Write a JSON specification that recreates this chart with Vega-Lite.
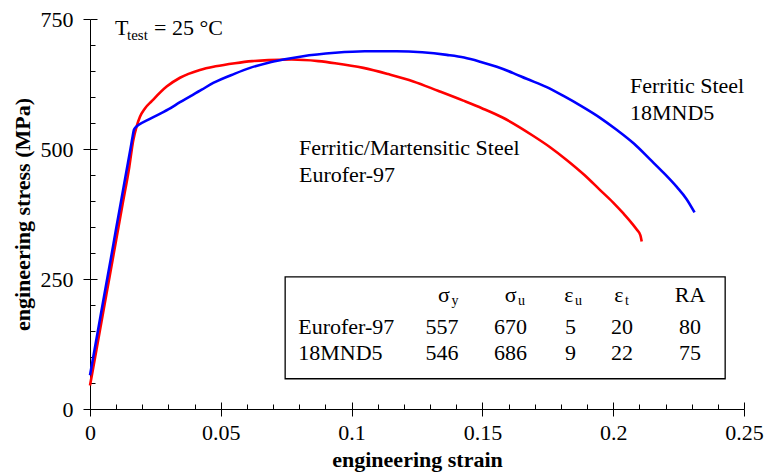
{
  "$schema": "https://vega.github.io/schema/vega-lite/v6.json",
  "width": 654,
  "height": 390,
  "autosize": {"type": "none"},
  "padding": {"left": 90, "top": 19, "right": 20, "bottom": 65},
  "background": "white",
  "config": {
    "view": {"stroke": null},
    "font": "Liberation Serif",
    "axis": {"grid": false, "domainColor": "black", "tickColor": "black", "labelColor": "black", "titleColor": "black", "labelFont": "Liberation Serif", "titleFont": "Liberation Serif", "domainWidth": 1, "tickWidth": 1, "labelOverlap": false, "labelBound": false, "labelFlush": false}
  },
  "resolve": {"axis": {"x": "independent", "y": "independent"}},
  "layer": [
    {
      "data": {"values": [{"x1": 0.0746, "x2": 0.2428, "y1": 58.2, "y2": 254}]},
      "mark": {"type": "rect", "fill": "white", "stroke": "black", "strokeWidth": 1.3},
      "encoding": {
        "x": {"field": "x1", "type": "quantitative", "scale": {"domain": [0, 0.25], "nice": false, "zero": false},
              "axis": {"values": [0.01,0.02,0.03,0.04,0.06,0.07,0.08,0.09,0.11,0.12,0.13,0.14,0.16,0.17,0.18,0.19,0.21,0.22,0.23,0.24], "tickSize": -5, "labels": false, "domain": false, "title": null, "orient": "bottom"}},
        "x2": {"field": "x2"},
        "y": {"field": "y1", "type": "quantitative", "scale": {"domain": [0, 750], "nice": false, "zero": false},
              "axis": {"values": [50,100,150,200,300,350,400,450,550,600,650,700], "tickSize": -5, "labels": false, "domain": false, "title": null, "orient": "left"}},
        "y2": {"field": "y2"}
      }
    },
    {
      "data": {"values": [
        {"strain": 0, "stress": 45}, {"strain": 0.0025, "stress": 115}, {"strain": 0.005, "stress": 185}, {"strain": 0.0075, "stress": 255}, {"strain": 0.010, "stress": 325},
        {"strain": 0.0125, "stress": 395}, {"strain": 0.015, "stress": 465},
        {"strain": 0.0165, "stress": 516}, {"strain": 0.0178, "stress": 543}, {"strain": 0.0191, "stress": 562}, {"strain": 0.0210, "stress": 578},
        {"strain": 0.0236, "stress": 592}, {"strain": 0.0293, "stress": 620}, {"strain": 0.0344, "stress": 637}, {"strain": 0.042, "stress": 652},
        {"strain": 0.048, "stress": 659}, {"strain": 0.0554, "stress": 665}, {"strain": 0.062, "stress": 669}, {"strain": 0.0682, "stress": 671},
        {"strain": 0.0771, "stress": 672}, {"strain": 0.0873, "stress": 669}, {"strain": 0.0937, "stress": 665}, {"strain": 0.1045, "stress": 656},
        {"strain": 0.114, "stress": 644}, {"strain": 0.1236, "stress": 630}, {"strain": 0.133, "stress": 612}, {"strain": 0.1427, "stress": 593},
        {"strain": 0.150, "stress": 578}, {"strain": 0.1575, "stress": 561}, {"strain": 0.1695, "stress": 525}, {"strain": 0.176, "stress": 503},
        {"strain": 0.1822, "stress": 479}, {"strain": 0.189, "stress": 450}, {"strain": 0.195, "stress": 421}, {"strain": 0.200, "stress": 397},
        {"strain": 0.2039, "stress": 376}, {"strain": 0.207, "stress": 358}, {"strain": 0.209, "stress": 345}, {"strain": 0.2104, "stress": 334},
        {"strain": 0.2109, "stress": 322}
      ]},
      "mark": {"type": "line", "color": "#ff0000", "strokeWidth": 2.6, "interpolate": "monotone"},
      "encoding": {
        "x": {"field": "strain", "type": "quantitative", "scale": {"domain": [0, 0.25], "nice": false, "zero": false},
              "axis": {"values": [0, 0.05, 0.1, 0.15, 0.2, 0.25], "format": ".2~f", "title": "engineering strain", "tickSize": 7, "labelFontSize": 22, "titleFontSize": 22, "titleFontWeight": "bold", "labelPadding": 6, "titlePadding": 6, "orient": "bottom"}},
        "y": {"field": "stress", "type": "quantitative", "scale": {"domain": [0, 750], "nice": false, "zero": false},
              "axis": {"values": [0, 250, 500, 750], "format": "d", "title": "engineering stress (MPa)", "tickSize": 7, "labelFontSize": 22, "titleFontSize": 22, "titleFontWeight": "bold", "labelPadding": 10, "titlePadding": 6, "orient": "left"}}
      }
    },
    {
      "data": {"values": [
        {"strain": 0, "stress": 65}, {"strain": 0.002, "stress": 121}, {"strain": 0.004, "stress": 178}, {"strain": 0.006, "stress": 234}, {"strain": 0.008, "stress": 290},
        {"strain": 0.010, "stress": 347}, {"strain": 0.012, "stress": 403}, {"strain": 0.014, "stress": 459}, {"strain": 0.0155, "stress": 501},
        {"strain": 0.0163, "stress": 524}, {"strain": 0.0168, "stress": 537}, {"strain": 0.0175, "stress": 542}, {"strain": 0.0185, "stress": 546}, {"strain": 0.0229, "stress": 558},
        {"strain": 0.0299, "stress": 576}, {"strain": 0.0344, "stress": 590}, {"strain": 0.0427, "stress": 614}, {"strain": 0.0471, "stress": 627},
        {"strain": 0.0554, "stress": 645}, {"strain": 0.0612, "stress": 656}, {"strain": 0.0682, "stress": 666}, {"strain": 0.0739, "stress": 672},
        {"strain": 0.0809, "stress": 678}, {"strain": 0.0937, "stress": 685}, {"strain": 0.105, "stress": 688}, {"strain": 0.1172, "stress": 688},
        {"strain": 0.127, "stress": 686}, {"strain": 0.1364, "stress": 681}, {"strain": 0.143, "stress": 676}, {"strain": 0.1491, "stress": 668},
        {"strain": 0.1555, "stress": 658}, {"strain": 0.1618, "stress": 646}, {"strain": 0.1669, "stress": 635}, {"strain": 0.1746, "stress": 619},
        {"strain": 0.181, "stress": 602}, {"strain": 0.188, "stress": 582}, {"strain": 0.195, "stress": 560}, {"strain": 0.2013, "stress": 537},
        {"strain": 0.208, "stress": 510}, {"strain": 0.2141, "stress": 480}, {"strain": 0.2195, "stress": 453}, {"strain": 0.2243, "stress": 427},
        {"strain": 0.228, "stress": 404}, {"strain": 0.2311, "stress": 378}
      ]},
      "mark": {"type": "line", "color": "#0000ff", "strokeWidth": 2.6, "interpolate": "monotone"},
      "encoding": {
        "x": {"field": "strain", "type": "quantitative", "scale": {"domain": [0, 0.25], "nice": false, "zero": false},
              "axis": {"values": [0, 0.05, 0.1, 0.15, 0.2, 0.25], "tickSize": -7, "labels": false, "domain": false, "title": null, "orient": "bottom"}},
        "y": {"field": "stress", "type": "quantitative", "scale": {"domain": [0, 750], "nice": false, "zero": false},
              "axis": {"values": [0, 250, 500, 750], "tickSize": -7, "labels": false, "domain": false, "title": null, "orient": "left"}}
      }
    },
    {
      "data": {"values": [
        {"x": 0.00956, "y": 720, "label": "T"},
        {"x": 0.02446, "y": 720, "label": "= 25 °C"},
        {"x": 0.2064, "y": 607.7, "label": "Ferritic Steel"},
        {"x": 0.2064, "y": 555, "label": "18MND5"},
        {"x": 0.0799, "y": 488.7, "label": "Ferritic/Martensitic Steel"},
        {"x": 0.0799, "y": 435.7, "label": "Eurofer-97"},
        {"x": 0.0796, "y": 145, "label": "Eurofer-97"},
        {"x": 0.0796, "y": 93.5, "label": "18MND5"}
      ]},
      "mark": {"type": "text", "align": "left", "baseline": "alphabetic", "fontSize": 22, "font": "Liberation Serif", "color": "black"},
      "encoding": {
        "x": {"field": "x", "type": "quantitative", "axis": null},
        "y": {"field": "y", "type": "quantitative", "axis": null},
        "text": {"field": "label"}
      }
    },
    {
      "data": {"values": [
        {"x": 0.01414, "y": 710.4, "label": "test"}
      ]},
      "mark": {"type": "text", "align": "left", "baseline": "alphabetic", "fontSize": 15, "font": "Liberation Serif", "color": "black"},
      "encoding": {
        "x": {"field": "x", "type": "quantitative", "axis": null},
        "y": {"field": "y", "type": "quantitative", "axis": null},
        "text": {"field": "label"}
      }
    },
    {
      "data": {"values": [
        {"x": 0.1346, "y": 145, "label": "557"}, {"x": 0.1607, "y": 145, "label": "670"}, {"x": 0.1837, "y": 145, "label": "5"}, {"x": 0.2034, "y": 145, "label": "20"}, {"x": 0.2294, "y": 145, "label": "80"},
        {"x": 0.1346, "y": 93.5, "label": "546"}, {"x": 0.1607, "y": 93.5, "label": "686"}, {"x": 0.1837, "y": 93.5, "label": "9"}, {"x": 0.2034, "y": 93.5, "label": "22"}, {"x": 0.2294, "y": 93.5, "label": "75"},
        {"x": 0.2294, "y": 205.9, "label": "RA"}
      ]},
      "mark": {"type": "text", "align": "center", "baseline": "alphabetic", "fontSize": 22, "font": "Liberation Serif", "color": "black"},
      "encoding": {
        "x": {"field": "x", "type": "quantitative", "axis": null},
        "y": {"field": "y", "type": "quantitative", "axis": null},
        "text": {"field": "label"}
      }
    },
    {
      "data": {"values": [
        {"x": 0.1376, "y": 205.9, "label": "σ"}, {"x": 0.1631, "y": 205.9, "label": "σ"}, {"x": 0.1848, "y": 205.9, "label": "ε"}, {"x": 0.2039, "y": 205.9, "label": "ε"}
      ]},
      "mark": {"type": "text", "align": "right", "baseline": "alphabetic", "fontSize": 22, "font": "Liberation Serif", "color": "black"},
      "encoding": {
        "x": {"field": "x", "type": "quantitative", "axis": null},
        "y": {"field": "y", "type": "quantitative", "axis": null},
        "text": {"field": "label"}
      }
    },
    {
      "data": {"values": [
        {"x": 0.1382, "y": 199.5, "label": "y"}, {"x": 0.1636, "y": 199.5, "label": "u"}, {"x": 0.1854, "y": 199.5, "label": "u"}, {"x": 0.2045, "y": 199.5, "label": "t"}
      ]},
      "mark": {"type": "text", "align": "left", "baseline": "alphabetic", "fontSize": 14, "font": "Liberation Serif", "color": "black"},
      "encoding": {
        "x": {"field": "x", "type": "quantitative", "axis": null},
        "y": {"field": "y", "type": "quantitative", "axis": null},
        "text": {"field": "label"}
      }
    }
  ]
}
